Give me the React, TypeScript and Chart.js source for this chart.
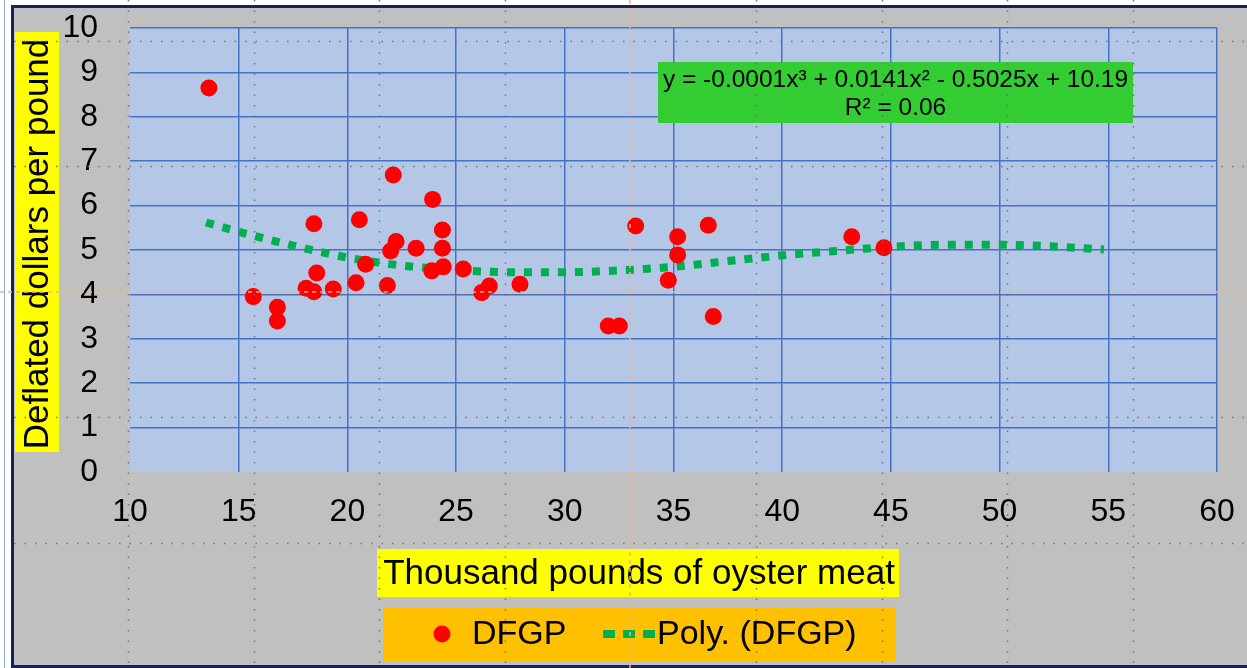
import React, { useEffect, useRef } from 'react';
import { Chart, registerables } from 'chart.js';

Chart.register(...registerables);

// Scatter data: DFGP (thousand pounds of oyster meat vs deflated dollars per pound)
const dfgpX = [13.63, 15.67, 16.78, 16.78, 18.10, 18.46, 18.46, 18.59, 19.35, 20.40, 20.55, 20.84, 21.84, 22.11, 21.99, 22.24, 23.16, 23.88, 23.92, 24.37, 24.37, 24.41, 25.33, 26.18, 26.53, 27.94, 32.00, 32.51, 33.26, 34.76, 35.19, 35.19, 36.60, 36.83, 43.20, 44.68];
const dfgpY = [8.65, 3.95, 3.71, 3.40, 4.14, 5.59, 4.06, 4.48, 4.12, 4.26, 5.68, 4.68, 4.20, 6.69, 4.98, 5.19, 5.04, 4.53, 6.14, 5.45, 5.04, 4.62, 4.57, 4.04, 4.19, 4.23, 3.29, 3.29, 5.54, 4.32, 4.89, 5.30, 5.56, 3.50, 5.30, 5.05];

// Polynomial trend line
const trendX = [13.5, 15, 17.5, 20, 22.5, 25, 27.5, 30, 32.5, 35, 37.5, 40, 42.5, 45, 47.5, 50, 52.5, 54.8];
const trendY = [5.62, 5.41, 5.10, 4.83, 4.65, 4.55, 4.50, 4.50, 4.54, 4.62, 4.75, 4.88, 4.98, 5.07, 5.12, 5.12, 5.08, 5.01];

const seriesLabels = ['DFGP', 'Poly. (DFGP)'];
const xAxisTitle = 'Thousand pounds of oyster meat';
const yAxisTitle = 'Deflated dollars per pound';
const equationLines = ['y = -0.0001x³ + 0.0141x² - 0.5025x + 10.19', 'R² = 0.06'];
const xRange = [10, 60, 5];
const yRange = [0, 10, 1];

const FONT = '"Liberation Sans", Arial, sans-serif';

const zeroPad = (s: any) => {
  s.paddingTop = 0;
  s.paddingBottom = 0;
  s.paddingLeft = 0;
  s.paddingRight = 0;
};

const decorPlugin = {
  id: 'decor',
  beforeDraw(chart: any) {
    const ctx = chart.ctx;
    const W = chart.width;
    const H = chart.height;
    ctx.save();
    ctx.fillStyle = '#ffffff';
    ctx.fillRect(0, 0, W, H);
    // light outer line
    ctx.strokeStyle = '#8FAADC';
    ctx.lineWidth = 1;
    ctx.beginPath();
    ctx.moveTo(4.5, 0);
    ctx.lineTo(4.5, H);
    ctx.stroke();
    // gray chart background
    ctx.fillStyle = '#C0C0C0';
    ctx.fillRect(12, 6, W - 12, H - 8);
    // navy frame
    ctx.strokeStyle = '#14245A';
    ctx.lineWidth = 3;
    ctx.beginPath();
    ctx.moveTo(W + 5, 6.5);
    ctx.lineTo(12.5, 6.5);
    ctx.lineTo(12.5, H - 1.5);
    ctx.lineTo(W + 5, H - 1.5);
    ctx.stroke();
    // plot area
    const a = chart.chartArea;
    ctx.fillStyle = '#B4C7E7';
    ctx.fillRect(a.left, a.top, a.right - a.left, a.bottom - a.top);
    ctx.restore();
  },
  afterDraw(chart: any) {
    const ctx = chart.ctx;
    const W = chart.width;
    const H = chart.height;
    ctx.save();
    // y axis title
    ctx.fillStyle = '#FFFF00';
    ctx.fillRect(15, 32, 44, 420);
    ctx.fillStyle = '#000';
    ctx.font = '35px ' + FONT;
    ctx.textAlign = 'center';
    ctx.textBaseline = 'middle';
    ctx.save();
    ctx.translate(38, 244);
    ctx.rotate(-Math.PI / 2);
    ctx.fillText(yAxisTitle, 0, 0);
    ctx.restore();
    // x axis title
    ctx.fillStyle = '#FFFF00';
    ctx.fillRect(377, 549, 522, 48);
    ctx.fillStyle = '#000';
    ctx.fillText(xAxisTitle, 639, 574);

    // equation box
    ctx.fillStyle = '#33CC33';
    ctx.fillRect(658, 62, 475, 61);
    ctx.fillStyle = '#000';
    ctx.font = '24.5px ' + FONT;
    ctx.fillText(equationLines[0], 895.5, 80);
    ctx.fillText(equationLines[1], 895.5, 108);

    // legend
    const ds = chart.data.datasets;
    ctx.fillStyle = '#FFC000';
    ctx.fillRect(383, 607, 513, 55);
    ctx.fillStyle = ds[0].backgroundColor;
    ctx.beginPath();
    ctx.arc(442, 634, 8.5, 0, Math.PI * 2);
    ctx.fill();
    ctx.fillStyle = '#000';
    ctx.font = '34px ' + FONT;
    ctx.textAlign = 'left';
    ctx.fillText(ds[0].label, 472, 635);
    ctx.strokeStyle = ds[1].borderColor;
    ctx.lineWidth = 8;
    ctx.setLineDash([12, 8]);
    ctx.beginPath();
    ctx.moveTo(603, 634);
    ctx.lineTo(655, 634);
    ctx.stroke();
    ctx.setLineDash([]);
    ctx.fillText(ds[1].label, 657, 635);

    // gray dotted guides
    ctx.strokeStyle = 'rgba(110,110,110,0.9)';
    ctx.lineWidth = 1.5;
    ctx.setLineDash([1.5, 9]);
    const vx = [128, 254, 379, 505, 756, 882, 1007, 1133];
    const hy = [41, 166, 417, 543];
    ctx.beginPath();
    vx.forEach((x) => {
      ctx.moveTo(x + 0.5, 0);
      ctx.lineTo(x + 0.5, H);
    });
    hy.forEach((y) => {
      ctx.moveTo(14, y + 0.5);
      ctx.lineTo(W, y + 0.5);
    });
    ctx.stroke();
    // orange guides
    ctx.strokeStyle = '#F4B183';
    ctx.lineWidth = 1.5;
    ctx.setLineDash([4, 4]);
    ctx.beginPath();
    ctx.moveTo(630, 0);
    ctx.lineTo(630, H);
    ctx.moveTo(0, 292);
    ctx.lineTo(W, 292);
    ctx.stroke();
    ctx.restore();
  },
};

export default function App() {
  const ref = useRef<HTMLCanvasElement | null>(null);

  useEffect(() => {
    document.body.style.margin = '0';
    const canvas = ref.current;
    if (!canvas) return;
    const chart = new Chart(canvas, {
      type: 'scatter',
      data: {
        datasets: [
          {
            label: seriesLabels[0],
            data: dfgpX.map((x, i) => ({ x, y: dfgpY[i] })),
            backgroundColor: '#FF0000',
            borderColor: '#FF0000',
            pointRadius: 8.5,
            pointBorderWidth: 0,
            pointHoverRadius: 8.5,
            order: 1,
          },
          {
            type: 'line',
            label: seriesLabels[1],
            data: trendX.map((x, i) => ({ x, y: trendY[i] })),
            borderColor: '#00B050',
            backgroundColor: '#00B050',
            borderWidth: 8,
            borderDash: [8, 9],
            borderCapStyle: 'butt',
            pointRadius: 0,
            showLine: true,
            fill: false,
            cubicInterpolationMode: 'monotone',
            order: 2,
          } as any,
        ],
      },
      options: {
        responsive: false,
        maintainAspectRatio: false,
        devicePixelRatio: 1,
        animation: false,
        events: [],
        layout: { padding: { left: 0, top: 28, right: 30, bottom: 0 } },
        plugins: {
          legend: { display: false },
          tooltip: { enabled: false },
          title: { display: false },
        },
        scales: {
          x: {
            type: 'linear',
            min: xRange[0],
            max: xRange[1],
            afterFit: (s: any) => {
              s.height = 196;
              zeroPad(s);
            },
            ticks: {
              stepSize: xRange[2],
              padding: 21,
              color: '#000',
              font: { family: FONT, size: 32 },
              maxRotation: 0,
              autoSkip: false,
            },
            grid: {
              drawTicks: false,
              lineWidth: 1.5,
              color: (c: any) => (c.tick && c.tick.value === xRange[0] ? 'rgba(0,0,0,0)' : '#4472C4'),
            },
            border: { display: false },
          },
          y: {
            type: 'linear',
            min: yRange[0],
            max: yRange[1],
            afterFit: (s: any) => {
              s.width = 130;
              zeroPad(s);
            },
            ticks: {
              stepSize: yRange[2],
              padding: 32,
              color: '#000',
              font: { family: FONT, size: 32 },
              autoSkip: false,
            },
            grid: {
              drawTicks: false,
              lineWidth: 1.5,
              color: (c: any) => (c.tick && c.tick.value === yRange[0] ? 'rgba(0,0,0,0)' : '#4472C4'),
            },
            border: { display: false },
          },
        },
      },
      plugins: [decorPlugin],
    });
    return () => chart.destroy();
  }, []);

  return (
    <div style={{ width: 1247, height: 668, position: 'relative' }}>
      <canvas ref={ref} width={1247} height={668} style={{ display: 'block', width: 1247, height: 668 }} />
    </div>
  );
}
